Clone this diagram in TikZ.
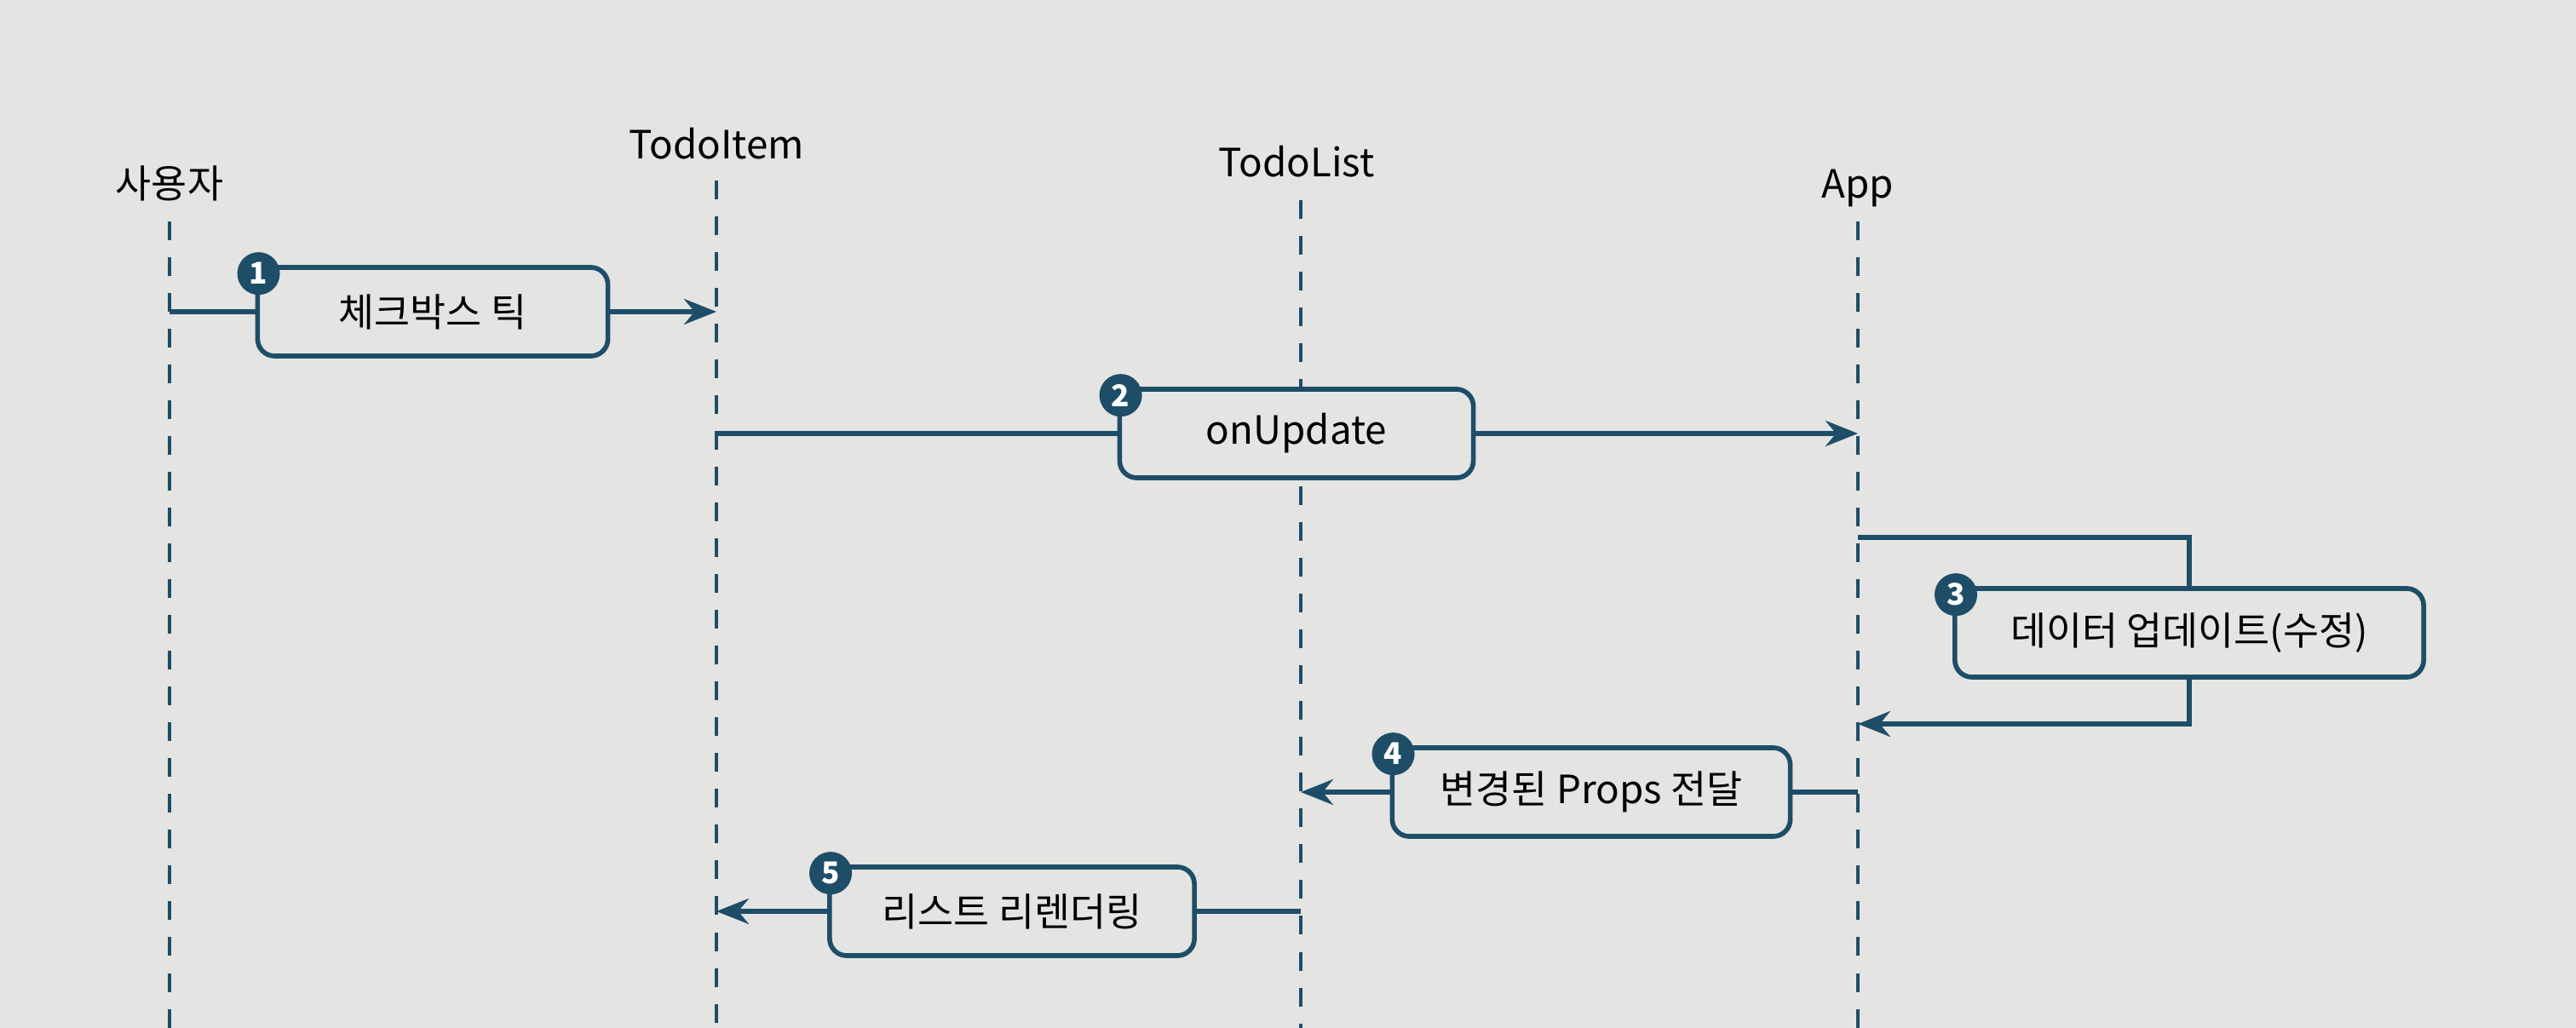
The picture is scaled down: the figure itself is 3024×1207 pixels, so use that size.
\documentclass[tikz,border=0pt]{standalone}
\usepackage{fontspec}
\setmainfont{Noto Sans CJK KR}
\usetikzlibrary{arrows.meta,positioning}
\definecolor{inkblue}{HTML}{1E4D68}
\definecolor{paper}{HTML}{E4E4E2}

\begin{document}
\begin{tikzpicture}[x=0.01cm, y=-0.01cm, font=\fontsize{13}{15}\selectfont,
        actor/.style={anchor=base, inner sep=0pt},
        life/.style={inkblue, line width=0.9pt, dash pattern=on 0.22cm off 0.2cm},
        msgbox/.style={draw=inkblue, line width=1.6pt, rounded corners=0.2cm, fill=paper, minimum height=1.04cm},
        num/.style={circle, fill=inkblue, text=white, font=\fontsize{10}{10}\selectfont\bfseries, inner sep=0pt, minimum size=0.5cm},
        link/.style={inkblue, line width=1.5pt},
        arr/.style={link, -{Stealth[length=0.38cm, width=0.3cm]}}]
    \fill[paper] (0,0) rectangle (3024,1207);
    \useasboundingbox (0,0) rectangle (3024,1207);

    % participants
    \node[actor] (user) at (199,233) {사용자};
    \node[actor] (item) at (841,187) {TodoItem};
    \node[actor] (list) at (1522,208) {TodoList};
    \node[actor] (app) at (2181,233) {App};

    \coordinate (userTop) at (199,260);
    \coordinate (itemTop) at (841,212);
    \coordinate (listTop) at (1527,235);
    \coordinate (appTop) at (2181,260);

    \draw[life] (userTop) -- (userTop |- 0,1207);
    \draw[life] (itemTop) -- (itemTop |- 0,1207);
    \draw[life] (listTop) -- (listTop |- 0,1207);
    \draw[life] (appTop) -- (appTop |- 0,1207);

    % messages
    \node[msgbox, minimum width=4.11cm] (tick) at (508,366) {체크박스 틱};
    \node[msgbox, minimum width=4.15cm] (update) at (1522,509) {onUpdate};
    \node[msgbox, minimum width=5.50cm] (modify) at (2570,743) {데이터 업데이트(수정)};
    \node[msgbox, minimum width=4.67cm] (props) at (1868,930) {변경된 Props 전달};
    \node[msgbox, minimum width=4.28cm] (render) at (1188,1070) {리스트 리렌더링};

    \node[num] at ([shift={(4,10)}]tick.north west) {1};
    \node[num] at ([shift={(4,10)}]update.north west) {2};
    \node[num] at ([shift={(4,10)}]modify.north west) {3};
    \node[num] at ([shift={(4,10)}]props.north west) {4};
    \node[num] at ([shift={(4,10)}]render.north west) {5};

    \coordinate (appOut) at (2181,631);
    \coordinate (appIn) at (2181,850);

    \draw[link] (tick.west -| userTop) -- (tick.west);
    \draw[arr] (tick.east) -- (tick.east -| itemTop);
    \draw[link] (update.west -| itemTop) -- (update.west);
    \draw[arr] (update.east) -- (update.east -| appTop);
    \draw[link] (appOut) -| (modify.north);
    \draw[arr] (modify.south) |- (appIn);
    \draw[link] (props.east -| appTop) -- (props.east);
    \draw[arr] (props.west) -- (props.west -| listTop);
    \draw[link] (render.east -| listTop) -- (render.east);
    \draw[arr] (render.west) -- (render.west -| itemTop);
\end{tikzpicture}
\end{document}
